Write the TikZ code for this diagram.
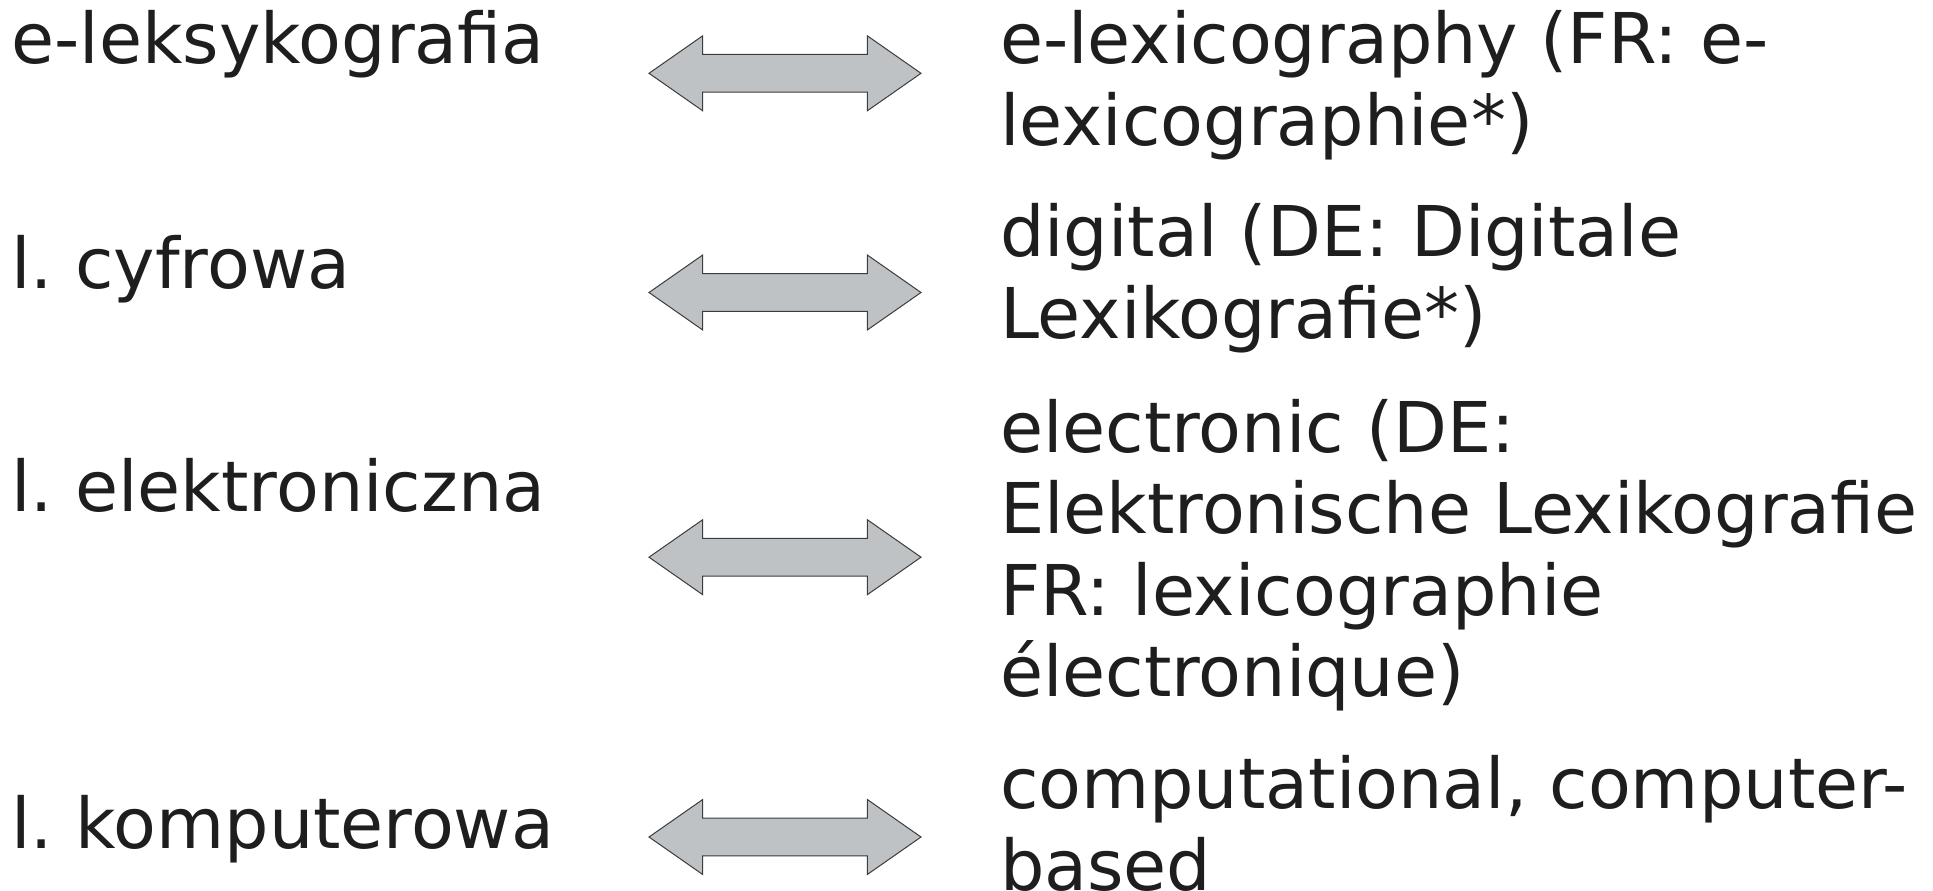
\documentclass[tikz,border=0pt]{standalone}
\usepackage{fontspec}
\setmainfont{DejaVu Sans}
\usetikzlibrary{calc}
\frenchspacing
\definecolor{ink}{RGB}{30,30,30}
\definecolor{arrowfill}{RGB}{190,194,197}
\definecolor{arrowline}{RGB}{60,60,60}
\tikzset{
  % multi-line terms are placed by the baseline of their last line
  term/.style={anchor=base west, inner sep=0pt, outer sep=0pt, text=ink,
    font=\fontsize{70}{81.5}\selectfont, align=left},
  twoway/.style={fill=arrowfill, draw=arrowline, line width=1pt, line join=miter}
}
% horizontal double-headed block arrow centred on a named coordinate
\newcommand\blockarrow[1]{%
  \draw[twoway] ($(#1)+(-136,0)$) -- ($(#1)+(-82.3,-37.5)$) -- ($(#1)+(-82.3,-18.85)$)
    -- ($(#1)+(82.3,-18.85)$) -- ($(#1)+(82.3,-37.5)$) -- ($(#1)+(136,0)$)
    -- ($(#1)+(82.3,37.5)$) -- ($(#1)+(82.3,18.85)$) -- ($(#1)+(-82.3,18.85)$)
    -- ($(#1)+(-82.3,37.5)$) -- cycle;}
\begin{document}
\begin{tikzpicture}[x=1pt, y=-1pt]
  \useasboundingbox (0,0) rectangle (1933,891);

  % Polish terms
  \node[term] (pl1) at (11.5,63.3) {e-leksykografia};
  \node[term] (pl2) at (11.5,288.3) {l. cyfrowa};
  \node[term] (pl3) at (11.5,511.5) {l. elektroniczna};
  \node[term] (pl4) at (11.5,848.3) {l. komputerowa};

  % English equivalents
  \node[term] (en1) at (1000,145.3) {e-lexicography (FR: e-\\lexicographie*)};
  \node[term] (en2) at (1000,338.3) {digital (DE: Digitale\\Lexikografie*)};
  \node[term] (en3) at (1000,696.7) {electronic (DE:\\Elektronische Lexikografie\\FR: lexicographie\\électronique)};
  \node[term] (en4) at (1000,890) {computational, computer-\\based};

  % arrows between the columns
  \coordinate (a1) at (785,73.3);
  \coordinate (a2) at (785,292.5);
  \coordinate (a3) at (785,557.2);
  \coordinate (a4) at (785,837);
  \blockarrow{a1}
  \blockarrow{a2}
  \blockarrow{a3}
  \blockarrow{a4}
\end{tikzpicture}
\end{document}
